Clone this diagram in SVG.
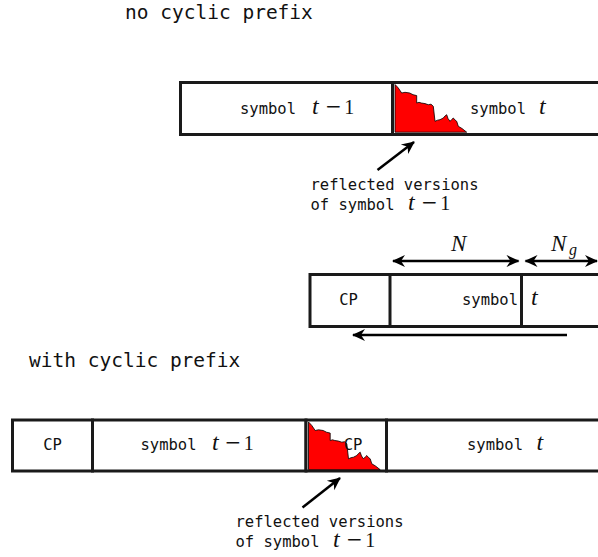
<svg xmlns="http://www.w3.org/2000/svg" width="598" height="557" viewBox="0 0 598 557">
  <style>
    .mono { font-family: "DejaVu Sans Mono", "Liberation Mono", monospace; fill: #111; }
    .title { font-size: 19.5px; }
    .lbl { font-size: 15.5px; }
    .math { font-family: "Liberation Serif", "DejaVu Serif", serif; font-size: 20px; fill: #111; }
    .it { font-style: italic; font-size: 24px; }
    .minus { font-family: "DejaVu Sans", sans-serif; font-size: 20px; }
    .bigN { font-style: italic; font-size: 23px; }
    .sub { font-style: italic; font-size: 16px; }
    .box { fill: #fff; stroke: #1a1a1a; stroke-width: 3; }
    .div { stroke: #1a1a1a; stroke-width: 3; }
    .refl { fill: #ff0000; stroke: #000; stroke-width: 0.8; stroke-linejoin: round; }
    .arrow { stroke: #000; stroke-width: 2.5; fill: none; }
  </style>
  <defs>
    <marker id="head" markerUnits="userSpaceOnUse" markerWidth="16" markerHeight="14" viewBox="-13 -7 16 14" refX="0" refY="0" orient="auto-start-reverse">
      <path d="M1,0 L-12,-6 L-8,0 L-12,6 Z" fill="#000"/>
    </marker>
    <!-- ragged red patch: echoes of the previous symbol leaking into the next -->
    <path id="echo" d="M2,1.5 L3.5,3 L5.3,5 L7,7.5 L8.7,10 L12,9.3 L16.7,10 L20,11.7 L23.7,12.6 L23.7,20 L26,19.3 L28.3,20 L32,20.6 L35.3,21.7 L38,21.2 L40.3,23.3 L42,38.3 L44.5,37.2 L47,36.7 L50.3,35 L52,33 L53.7,31.7 L55,35.5 L57,38.3 L58.8,36.4 L60.3,35 L62,37 L63.7,38.3 L65.3,43.3 L69,45.5 L73.7,49.2 L2,49.2 Z"/>
  </defs>

  <g id="title-no-cp">
    <text class="mono title" x="125" y="19">no cyclic prefix</text>
  </g>

  <!-- upper stream: no guard interval -->
  <g id="sym-prev-nocp">
    <rect class="box" x="180.5" y="82.5" width="212" height="52"/>
    <text class="mono lbl" x="240" y="113.5">symbol</text>
    <text class="math" y="113.5"><tspan class="it" x="312">t</tspan><tspan class="minus" x="325" dy="-1">−</tspan><tspan x="344.2" dy="1">1</tspan></text>
  </g>
  <g id="sym-cur-nocp">
    <rect class="box" x="392.5" y="82.5" width="220" height="52"/>
    <use href="#echo" class="refl" transform="translate(393,83)"/>
    <text class="mono lbl" x="470" y="113.5">symbol</text>
    <text class="math" y="113.5"><tspan class="it" x="539">t</tspan></text>
  </g>
  <g id="note-nocp">
    <text class="mono lbl" x="310.5" y="190">reflected versions</text>
    <text class="mono lbl" x="310.5" y="210">of symbol</text>
    <text class="math" y="210"><tspan class="it" x="408">t</tspan><tspan class="minus" x="421" dy="-1">−</tspan><tspan x="440.2" dy="1">1</tspan></text>
  </g>

  <!-- cyclic prefix construction -->
  <g id="cp-build">
    <rect class="box" x="310" y="274.5" width="300" height="52"/>
    <line class="div" x1="390" y1="274.5" x2="390" y2="326.5"/>
    <line class="div" x1="521.5" y1="274.5" x2="521.5" y2="326.5"/>
    <text class="mono lbl" x="348.5" y="305" text-anchor="middle">CP</text>
    <text class="mono lbl" x="462" y="305">symbol</text>
    <text class="math" y="305"><tspan class="it" x="531">t</tspan></text>
  </g>
  <g id="dim-labels">
    <text class="math" y="250.5"><tspan class="bigN" x="451">N</tspan></text>
    <text class="math" y="250.5"><tspan class="bigN" x="551">N</tspan><tspan class="sub" x="569" dy="4.5">g</tspan></text>
  </g>

  <g id="title-cp">
    <text class="mono title" x="29" y="367">with cyclic prefix</text>
  </g>

  <!-- lower stream: guard interval absorbs the echo -->
  <g id="cp-prev">
    <rect class="box" x="12.5" y="420" width="80" height="51"/>
    <text class="mono lbl" x="52.5" y="450" text-anchor="middle">CP</text>
  </g>
  <g id="sym-prev-cp">
    <rect class="box" x="92.5" y="420" width="213.5" height="51"/>
    <text class="mono lbl" x="140.5" y="450">symbol</text>
    <text class="math" y="450"><tspan class="it" x="212">t</tspan><tspan class="minus" x="224.6" dy="-1">−</tspan><tspan x="243.8" dy="1">1</tspan></text>
  </g>
  <g id="cp-cur">
    <rect class="box" x="306" y="420" width="80.5" height="51"/>
    <use href="#echo" class="refl" transform="translate(306.5,420.5)"/>
    <text class="mono lbl" x="353" y="450" text-anchor="middle">CP</text>
  </g>
  <g id="sym-cur-cp">
    <rect class="box" x="386.5" y="420" width="230" height="51"/>
    <text class="mono lbl" x="467" y="450">symbol</text>
    <text class="math" y="450"><tspan class="it" x="536.5">t</tspan></text>
  </g>
  <g id="note-cp">
    <text class="mono lbl" x="235.5" y="527">reflected versions</text>
    <text class="mono lbl" x="235.5" y="547">of symbol</text>
    <text class="math" y="547"><tspan class="it" x="333">t</tspan><tspan class="minus" x="346" dy="-1">−</tspan><tspan x="365.2" dy="1">1</tspan></text>
  </g>

  <g id="connectors">
    <line class="arrow" x1="377.5" y1="170" x2="414" y2="142" marker-end="url(#head)"/>
    <line class="arrow" x1="393" y1="261" x2="518.5" y2="261" marker-start="url(#head)" marker-end="url(#head)"/>
    <line class="arrow" x1="525.5" y1="261" x2="597" y2="261" marker-start="url(#head)" marker-end="url(#head)"/>
    <line class="arrow" x1="567" y1="335" x2="353" y2="335" marker-end="url(#head)"/>
    <line class="arrow" x1="302.5" y1="507.5" x2="340" y2="478" marker-end="url(#head)"/>
  </g>
</svg>
